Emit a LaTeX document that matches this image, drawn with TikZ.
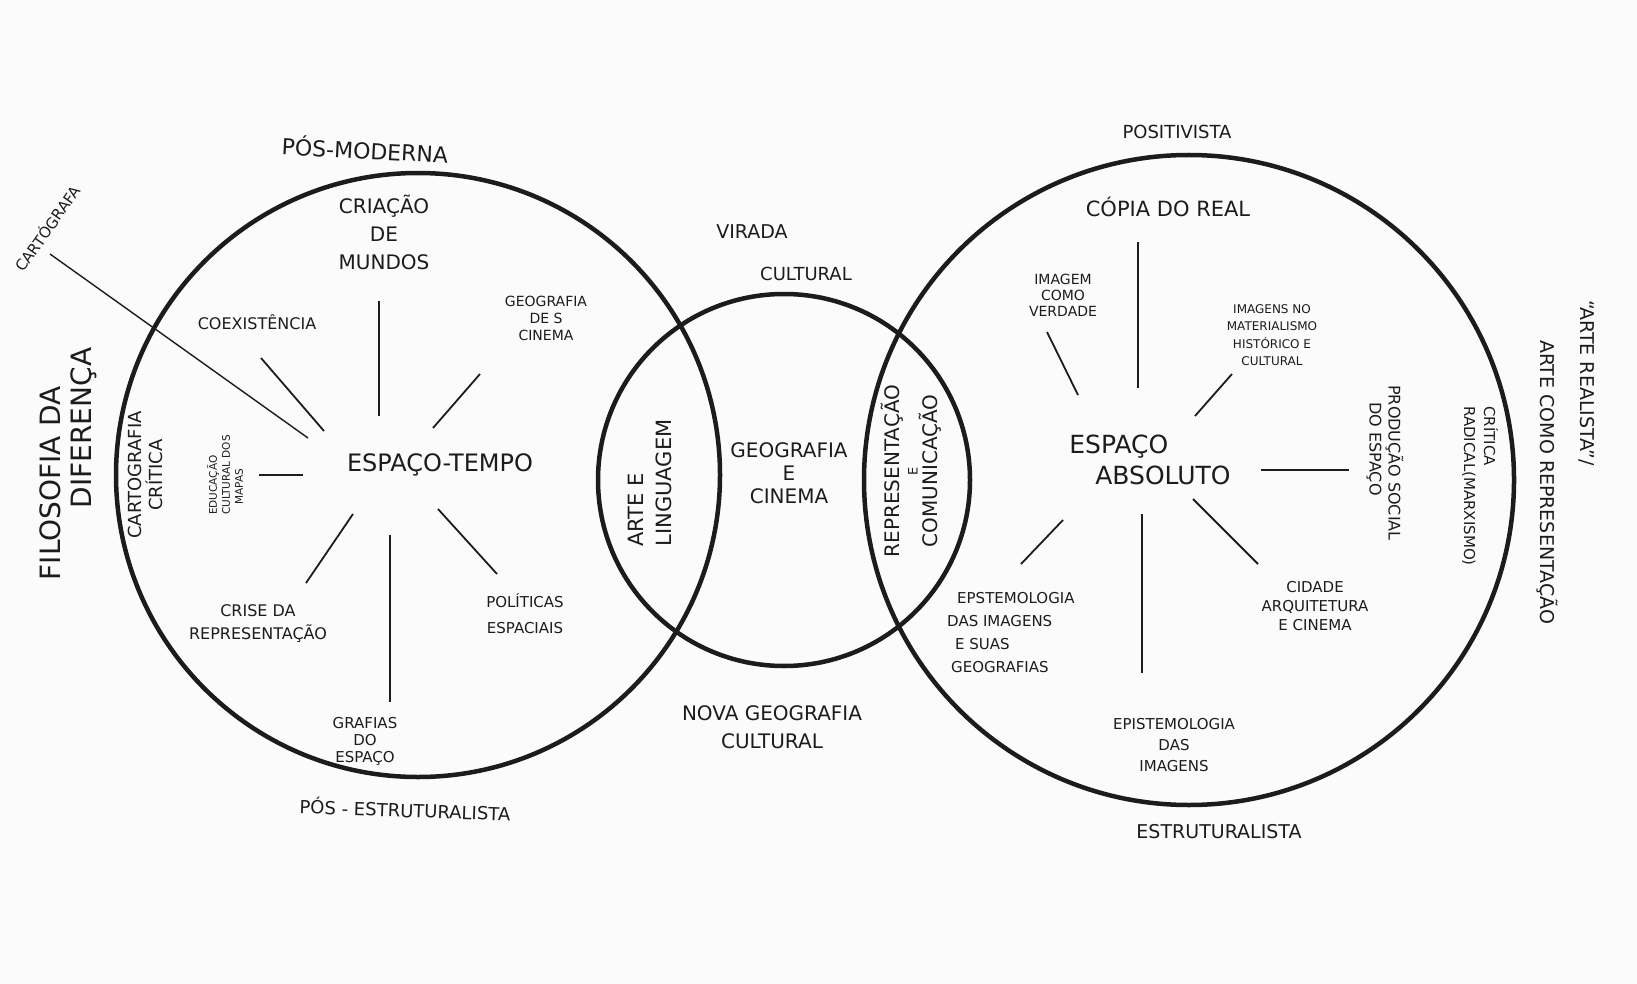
\documentclass[tikz,border=0pt]{standalone}
\usepackage{fontspec}
\setmainfont{DejaVu Sans}
\newcommand\fz[2]{\fontsize{#1}{#2}\selectfont}
\definecolor{paper}{RGB}{251,251,251}
\definecolor{ink}{RGB}{28,28,28}
\begin{document}
\begin{tikzpicture}[x=1pt,y=-1pt,
  ring/.style={line width=4.5pt, draw=ink},
  spoke/.style={line width=1.8pt, draw=ink},
  lbl/.style={inner sep=0pt, align=center, text=ink}]
\useasboundingbox[fill=paper] (0,0) rectangle (1637,984);

% the three rings
\draw[ring] (418,475) circle[radius=302];
\draw[ring] (784,480) circle[radius=186];
\draw[ring] (1189,480) circle[radius=325];

% ---- left ring: Espaço-tempo ----
\node[lbl, font=\fz{22}{26}, rotate=-3] (posmod) at (365,149) {PÓS-MODERNA};
\node[lbl, font=\fz{20}{28}] (criacao) at (384,232) {CRIAÇÃO\\DE\\MUNDOS};
\node[lbl, font=\fz{16}{20}] (coex) at (257,322) {COEXISTÊNCIA};
\node[lbl, font=\fz{14}{17}] (geocin) at (546,318) {GEOGRAFIA\\DE S\\CINEMA};
\node[lbl, font=\fz{18}{21}, rotate=90] (cartcrit) at (145,475) {CARTOGRAFIA\\CRÍTICA};
\node[lbl, font=\fz{10.5}{13}, rotate=90, align=left] (educ) at (225,475) {EDUCAÇÃO\\CULTURAL DOS\\\hspace*{10pt}MAPAS};
\node[lbl, font=\fz{24}{28}] (esptempo) at (440,465) {ESPAÇO-TEMPO};
\node[lbl, font=\fz{16}{23}] (crise) at (258,624) {CRISE DA\\REPRESENTAÇÃO};
\node[lbl, font=\fz{15}{26}] (politicas) at (525,614) {POLÍTICAS\\ESPACIAIS};
\node[lbl, font=\fz{15}{17}] (grafias) at (365,741) {GRAFIAS\\DO\\ESPAÇO};
\node[lbl, font=\fz{18}{22}, rotate=-2] (posest) at (405,809) {PÓS - ESTRUTURALISTA};
\node[lbl, font=\fz{28}{31}, rotate=90, align=left] (filo) at (68,464) {FILOSOFIA DA\\\hspace*{72pt}DIFERENÇA};
\node[lbl, font=\fz{15}{18}, rotate=55] (cartografa) at (47,228) {CARTÓGRAFA};

\coordinate (c1) at (50,254);   \coordinate (c2) at (308,438);
\coordinate (l1a) at (379,301); \coordinate (l1b) at (379,416);
\coordinate (l2a) at (261,358); \coordinate (l2b) at (324,431);
\coordinate (l3a) at (480,374); \coordinate (l3b) at (433,428);
\coordinate (l4a) at (259,475); \coordinate (l4b) at (303,475);
\coordinate (l5a) at (353,514); \coordinate (l5b) at (306,583);
\coordinate (l6a) at (390,535); \coordinate (l6b) at (390,702);
\coordinate (l7a) at (438,509); \coordinate (l7b) at (497,574);
\draw[spoke, line width=1.4pt] (c1) -- (c2);
\foreach \s in {1,...,7} \draw[spoke] (l\s a) -- (l\s b);

% ---- middle ring ----
\node[lbl, font=\fz{19}{22}] (virada) at (752,232) {VIRADA};
\node[lbl, font=\fz{18}{22}] (cultural) at (806,274) {CULTURAL};
\node[lbl, font=\fz{21}{28}, rotate=90, align=left] (arte) at (650,483) {ARTE E\\LINGUAGEM};
\node[lbl, font=\fz{20}{23}] (geocinema) at (789,473) {GEOGRAFIA\\E\\CINEMA};
\node[lbl, font=\fz{20}{18}, rotate=90] (repcom) at (911,471) {REPRESENTAÇÃO\\{\fz{13}{18}E}\\COMUNICAÇÃO};
\node[lbl, font=\fz{20}{28}] (novageo) at (772,727) {NOVA GEOGRAFIA\\CULTURAL};

% ---- right ring: Espaço absoluto ----
\node[lbl, font=\fz{18}{22}] (posit) at (1177,132) {POSITIVISTA};
\node[lbl, font=\fz{21}{25}] (copia) at (1168,207) {CÓPIA DO REAL};
\node[lbl, font=\fz{14}{16}] (imgverd) at (1063,295) {IMAGEM\\COMO\\VERDADE};
\node[lbl, font=\fz{12}{17.5}] (imgmat) at (1272,335) {IMAGENS NO\\MATERIALISMO\\HISTÓRICO E\\CULTURAL};
\node[lbl, font=\fz{25}{31}, align=left] (espabs) at (1150,460) {ESPAÇO\\\hspace*{26pt}ABSOLUTO};
\node[lbl, font=\fz{16}{19}, rotate=-90, align=left] (prodsoc) at (1385,463) {PRODUÇÃO SOCIAL\\\hspace*{17pt}DO ESPAÇO};
\node[lbl, font=\fz{15}{20}, rotate=-90, align=left] (critrad) at (1480,486) {CRÍTICA\\RADICAL(MARXISMO)};
\node[lbl, font=\fz{19}{40}, rotate=-90, align=left] (artereal) at (1566,462) {“ARTE REALISTA”/\\\hspace*{40pt}ARTE COMO REPRESENTAÇÃO};
\node[lbl, font=\fz{15}{23}, align=left, anchor=west] (epst1) at (947,633) {\hspace*{10pt}EPSTEMOLOGIA\\DAS IMAGENS\\\hspace*{8pt}E SUAS\\\hspace*{4pt}GEOGRAFIAS};
\node[lbl, font=\fz{15}{19}] (cidade) at (1315,606) {CIDADE\\ARQUITETURA\\E CINEMA};
\node[lbl, font=\fz{15}{21}] (epist2) at (1174,745) {EPISTEMOLOGIA\\DAS\\IMAGENS};
\node[lbl, font=\fz{19}{23}] (estrut) at (1219,832) {ESTRUTURALISTA};

\coordinate (r1a) at (1138,242); \coordinate (r1b) at (1138,388);
\coordinate (r2a) at (1047,332); \coordinate (r2b) at (1078,395);
\coordinate (r3a) at (1232,374); \coordinate (r3b) at (1195,416);
\coordinate (r4a) at (1261,470); \coordinate (r4b) at (1349,470);
\coordinate (r5a) at (1063,520); \coordinate (r5b) at (1021,564);
\coordinate (r6a) at (1142,514); \coordinate (r6b) at (1142,673);
\coordinate (r7a) at (1193,499); \coordinate (r7b) at (1258,564);
\foreach \s in {1,...,7} \draw[spoke] (r\s a) -- (r\s b);
\end{tikzpicture}
\end{document}
